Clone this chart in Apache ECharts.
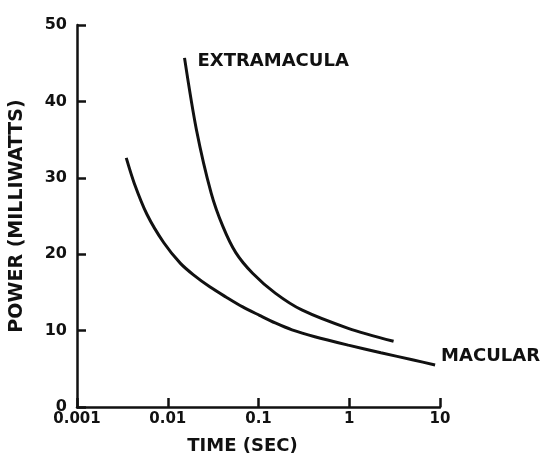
<!DOCTYPE html>
<html>
<head>
<meta charset="utf-8">
<script src="https://cdn.jsdelivr.net/npm/echarts@6/dist/echarts.min.js"></script>
<style>
  html, body { margin: 0; padding: 0; background: #fff; }
  #chart { width: 542px; height: 470px; }
</style>
</head>
<body>
<div id="chart"></div>
<script>
// values (time in sec, power in mW)
const extraTime = [0.0153, 0.0207, 0.0301, 0.0406, 0.0562, 0.0861, 0.153, 0.30, 0.975, 3.08];
const extraPower = [45.7, 36.3, 28.0, 23.6, 20.2, 17.5, 14.9, 12.7, 10.3, 8.6];
const macularTime = [0.00349, 0.00427, 0.00591, 0.00905, 0.0138, 0.0192, 0.0293, 0.0438, 0.067, 0.1025, 0.153, 0.234, 0.417, 0.975, 2.23, 5.09, 8.83];
const macularPower = [32.6, 29.3, 25.2, 21.5, 18.8, 17.3, 15.7, 14.4, 13.1, 12.0, 11.0, 10.1, 9.2, 8.1, 7.1, 6.15, 5.5];
const xTickLabels = ['0.001', '0.01', '0.1', '1', '10'];
const yTickLabels = ['0', '10', '20', '30', '40', '50'];

const ink = '#111';
const font = 'DejaVu Sans';

const chart = echarts.init(document.getElementById('chart'));

chart.setOption({
  animation: false,
  backgroundColor: '#fff',
  grid: { left: 74, right: 102, top: 25, bottom: 63 },
  xAxis: {
    type: 'log',
    logBase: 10,
    min: 0.001,
    max: 10,
    name: 'TIME (SEC)',
    nameLocation: 'middle',
    nameGap: 30,
    nameTextStyle: {
      color: ink, fontFamily: font, fontWeight: 'bold', fontSize: 18,
      padding: [0, 32, 0, 0]
    },
    axisLine: { lineStyle: { color: ink, width: 2.5 } },
    axisTick: { inside: true, length: 9, lineStyle: { color: ink, width: 2.5 } },
    minorTick: { show: false },
    splitLine: { show: false },
    axisLabel: {
      color: ink, fontFamily: font, fontWeight: 'bold', fontSize: 15, margin: 5,
      formatter: (v, i) => xTickLabels[i]
    }
  },
  yAxis: {
    type: 'value',
    min: 0,
    max: 50,
    interval: 10,
    name: 'POWER (MILLIWATTS)',
    nameLocation: 'middle',
    nameRotate: 90,
    nameGap: 50,
    nameTextStyle: { color: ink, fontFamily: font, fontWeight: 'bold', fontSize: 19 },
    axisLine: { show: true, lineStyle: { color: ink, width: 2.5 } },
    axisTick: { show: true, inside: true, length: 9, lineStyle: { color: ink, width: 2.5 } },
    splitLine: { show: false },
    axisLabel: {
      color: ink, fontFamily: font, fontWeight: 'bold', fontSize: 16, margin: 10,
      formatter: (v, i) => yTickLabels[i]
    }
  },
  series: [
    {
      name: 'EXTRAMACULA',
      type: 'line',
      smooth: 0.3,
      showSymbol: false,
      lineStyle: { color: ink, width: 3 },
      markPoint: {
        symbol: 'circle',
        symbolSize: 0,
        silent: true,
        label: {
          show: true,
          position: 'right',
          distance: 13,
          offset: [0, 3],
          formatter: 'EXTRAMACULA',
          color: ink,
          fontFamily: font,
          fontWeight: 'bold',
          fontSize: 18
        },
        data: [{ coord: [extraTime[0], extraPower[0]] }]
      },
      data: extraTime.map((t, i) => [t, extraPower[i]])
    },
    {
      name: 'MACULAR',
      type: 'line',
      smooth: 0.3,
      showSymbol: false,
      lineStyle: { color: ink, width: 3 },
      endLabel: {
        show: true,
        formatter: 'MACULAR',
        distance: 6,
        offset: [0, -9],
        color: ink,
        fontFamily: font,
        fontWeight: 'bold',
        fontSize: 18
      },
      data: macularTime.map((t, i) => [t, macularPower[i]])
    }
  ]
});
</script>
</body>
</html>
